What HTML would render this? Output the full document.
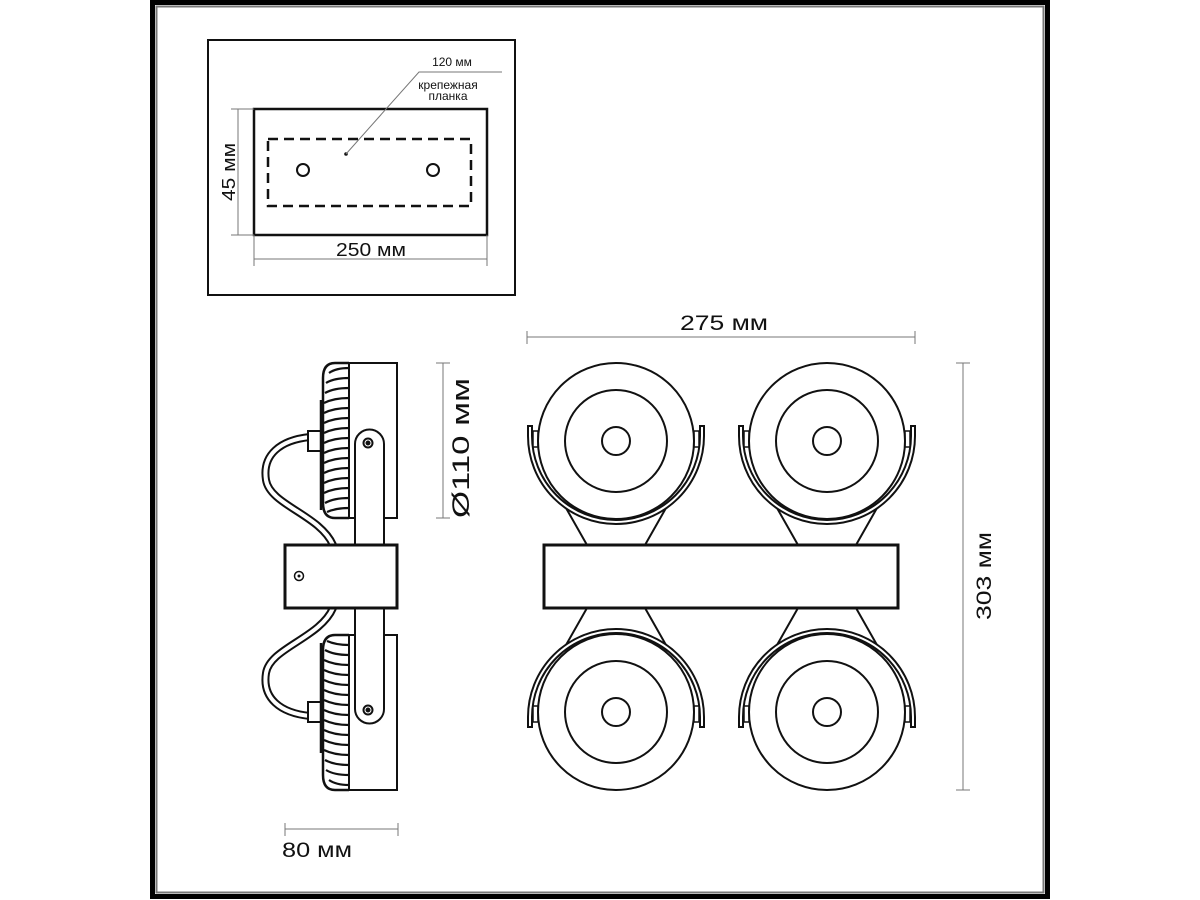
<!DOCTYPE html>
<html><head><meta charset="utf-8"><style>
html,body{margin:0;padding:0;background:#fff;}
svg{display:block;}
text{font-family:"Liberation Sans",sans-serif;fill:#111;}
</style></head><body>
<svg width="1200" height="900" viewBox="0 0 1200 900" xmlns="http://www.w3.org/2000/svg">
<defs>
<g id="lampTop" fill="none" stroke="#111" stroke-width="2">
  <path d="M566,508 L587,545 M666,508 L645,545" />
  <path d="M528,426 L528,436 A88,88 0 0 0 704,436 L704,426 L700,426 L700,436 A84,84 0 0 1 532,436 L532,426 Z" fill="#fff"/>
  <rect x="533" y="431" width="5" height="16" fill="#fff" stroke-width="1.5"/>
  <rect x="694" y="431" width="5" height="16" fill="#fff" stroke-width="1.5"/>
  <circle cx="616" cy="441" r="78" fill="#fff"/>
  <circle cx="616" cy="441" r="51"/>
  <circle cx="616" cy="441" r="14"/>
</g>
<g id="sideTop" fill="none" stroke="#111" stroke-width="2">
  <path d="M310,437 C280,440 262,455 266,480 C270,505 320,515 333,545" stroke-width="8"/>
  <path d="M310,437 C280,440 262,455 266,480 C270,505 320,515 333,545" stroke="#fff" stroke-width="4"/>
  <rect x="308" y="431" width="15" height="20" fill="#fff"/>
  <path d="M349,363 L335,363 Q323,363 323,378 L323,503 Q323,518 335,518 L349,518" fill="#fff" stroke-width="2.5"/>
  <g stroke-width="2.2">
    <path d="M329,373Q336,368 349,368M326,383Q334,378 349,378M325,393Q334,388 349,388M324,403Q334,398 349,398M324,413Q334,408 349,408M324,423Q334,418 349,418M324,433Q334,428 349,428M324,443Q334,438 349,438M324,453Q334,448 349,448M324,463Q334,458 349,458M324,473Q334,468 349,468M324,483Q334,478 349,478M324,493Q334,488 349,488M325,503Q334,498 349,498M327,512Q336,508 349,508"/>
  </g>
  <line x1="321" y1="400" x2="321" y2="510" stroke-width="2.5"/>
  <rect x="349" y="363" width="48" height="155" fill="#fff"/>
  <path d="M355,545 L355,444 A14.5,14.5 0 0 1 384,444 L384,545" fill="#fff"/>
  <circle cx="368" cy="443" r="4.5"/><circle cx="368" cy="443" r="1.5" fill="#111"/>
</g>
</defs>

<!-- frame -->
<rect x="152.5" y="2.5" width="895" height="894" fill="none" stroke="#000" stroke-width="5"/>
<rect x="156.5" y="6.5" width="887" height="886" fill="none" stroke="#777" stroke-width="2"/>

<!-- top-left box -->
<rect x="208" y="40" width="307" height="255" fill="none" stroke="#111" stroke-width="2"/>
<rect x="254" y="109" width="233" height="126" fill="none" stroke="#111" stroke-width="2.5"/>
<rect x="268" y="139" width="203" height="67" fill="none" stroke="#111" stroke-width="2.5" stroke-dasharray="10,6"/>
<circle cx="303" cy="170" r="6" fill="none" stroke="#111" stroke-width="2"/>
<circle cx="433" cy="170" r="6" fill="none" stroke="#111" stroke-width="2"/>
<circle cx="346" cy="154" r="1.8" fill="#111"/>
<polyline points="346,154 419,72 502,72" fill="none" stroke="#777" stroke-width="1"/>
<text x="452" y="66" font-size="12" text-anchor="middle">120 мм</text>
<text x="448" y="89" font-size="12" text-anchor="middle">крепежная</text>
<text x="448" y="100" font-size="12" text-anchor="middle">планка</text>
<g stroke="#777" stroke-width="1">
<line x1="238" y1="109" x2="238" y2="235"/><line x1="231" y1="109" x2="254" y2="109"/><line x1="231" y1="235" x2="254" y2="235"/>
<line x1="254" y1="259" x2="487" y2="259"/><line x1="254" y1="235" x2="254" y2="266"/><line x1="487" y1="235" x2="487" y2="266"/>
</g>
<text transform="translate(235,172) rotate(-90)" font-size="18" text-anchor="middle" textLength="58" lengthAdjust="spacingAndGlyphs">45 мм</text>
<text x="371" y="256" font-size="18" text-anchor="middle" textLength="70" lengthAdjust="spacingAndGlyphs">250 мм</text>

<!-- side view -->
<use href="#sideTop"/>
<use href="#sideTop" transform="translate(0,1153) scale(1,-1)"/>
<rect x="285" y="545" width="112" height="63" fill="#fff" stroke="#111" stroke-width="3"/>
<circle cx="299" cy="576" r="4.5" fill="none" stroke="#111" stroke-width="1.5"/><circle cx="299" cy="576" r="1.5" fill="#111"/>
<g stroke="#777" stroke-width="1">
<line x1="443" y1="363" x2="443" y2="518"/><line x1="436" y1="363" x2="450" y2="363"/><line x1="436" y1="518" x2="450" y2="518"/>
<line x1="285" y1="829" x2="398" y2="829"/><line x1="285" y1="823" x2="285" y2="836"/><line x1="398" y1="823" x2="398" y2="836"/>
</g>
<text transform="translate(469,448) rotate(-90)" font-size="24" text-anchor="middle" textLength="140" lengthAdjust="spacingAndGlyphs">Ø110 мм</text>
<text x="317" y="857" font-size="21" text-anchor="middle" textLength="70" lengthAdjust="spacingAndGlyphs">80 мм</text>

<!-- front view -->
<use href="#lampTop"/>
<use href="#lampTop" transform="translate(211,0)"/>
<use href="#lampTop" transform="translate(0,1153) scale(1,-1)"/>
<use href="#lampTop" transform="translate(211,1153) scale(1,-1)"/>
<rect x="544" y="545" width="354" height="63" fill="#fff" stroke="#111" stroke-width="3"/>
<g stroke="#777" stroke-width="1">
<line x1="527" y1="337" x2="915" y2="337"/><line x1="527" y1="331" x2="527" y2="344"/><line x1="915" y1="331" x2="915" y2="344"/>
<line x1="963" y1="363" x2="963" y2="790"/><line x1="956" y1="363" x2="970" y2="363"/><line x1="956" y1="790" x2="970" y2="790"/>
</g>
<text x="724" y="330" font-size="21" text-anchor="middle" textLength="88" lengthAdjust="spacingAndGlyphs">275 мм</text>
<text transform="translate(991,576) rotate(-90)" font-size="21" text-anchor="middle" textLength="88" lengthAdjust="spacingAndGlyphs">303 мм</text>
</svg>
</body></html>
